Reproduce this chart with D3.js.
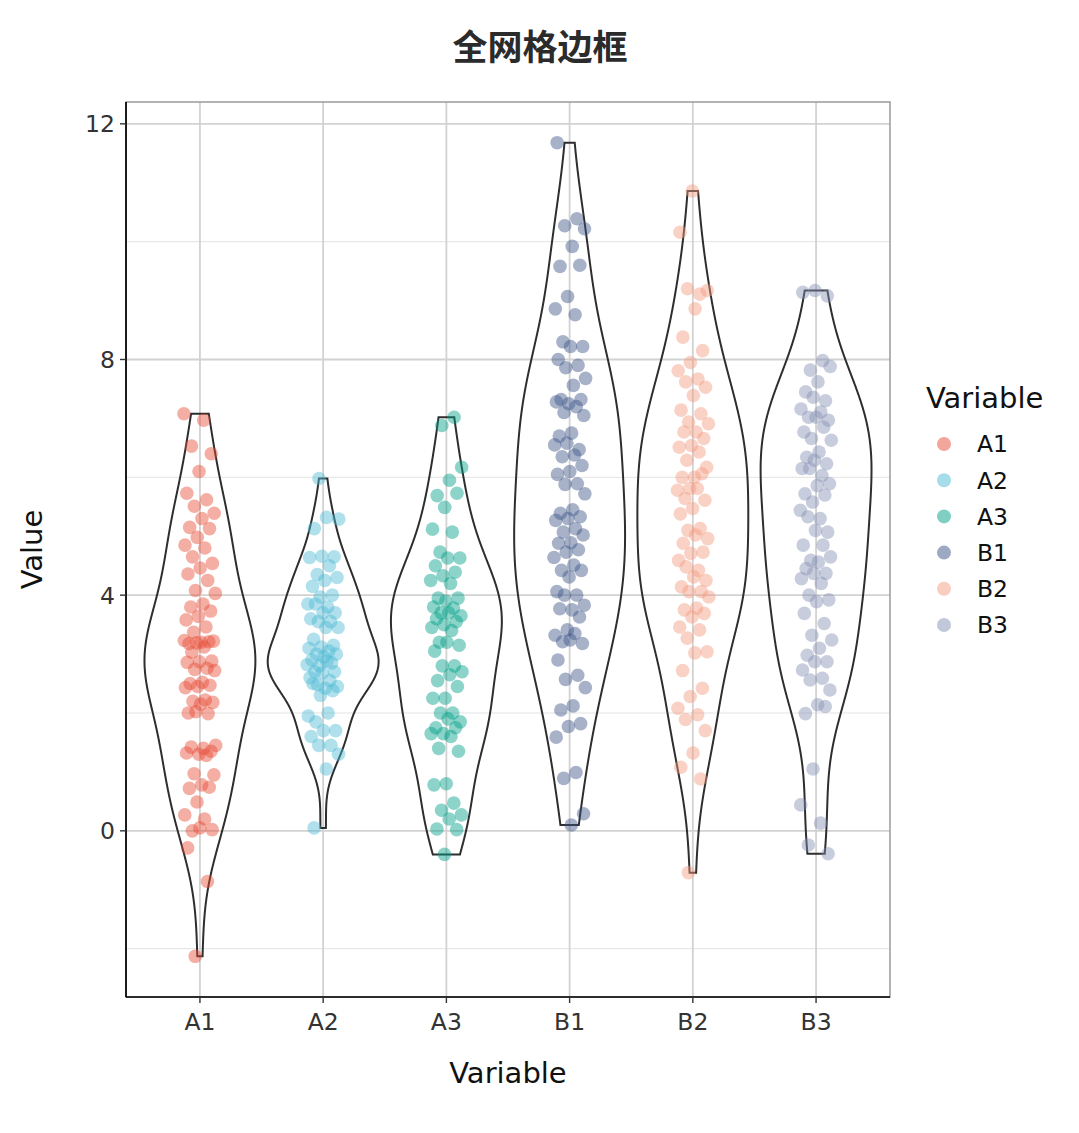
<!DOCTYPE html>
<html><head><meta charset="utf-8">
<script src="https://cdn.jsdelivr.net/npm/d3@7"></script>
<style>body{margin:0;background:#fff}svg{display:block}</style>
</head><body>
<svg id="chart" width="1079" height="1133"></svg>
<script>
const categories = ["A1","A2","A3","B1","B2","B3"];
const colors = ["#E64B35","#4DBBD5","#00A087","#3C5488","#F39B7F","#8491B4"];
const yTicksMajor = [0,4,8,12];
const yTicksMinor = [-2,2,6,10];

const a1Values = [7.08,6.97,6.53,6.40,6.10,5.73,5.62,5.51,5.39,5.30,5.15,5.13,4.98,4.85,4.80,4.65,4.54,4.46,4.36,4.25,4.08,4.03,3.85,3.80,3.73,3.64,3.58,3.46,3.37,3.22,3.20,3.18,3.21,3.19,3.23,3.12,3.03,2.88,2.87,2.86,2.76,2.74,2.72,2.52,2.50,2.47,2.45,2.43,2.22,2.20,2.18,2.15,2.00,1.99,2.02,1.45,1.40,1.42,1.35,1.30,1.32,1.28,0.97,0.95,0.78,0.72,0.74,0.49,0.27,0.20,0.00,0.02,0.05,-0.29,-0.86,-2.13];
const a2Values = [5.98,5.29,5.32,5.13,4.65,4.66,4.64,4.50,4.35,4.30,4.25,4.15,4.00,3.97,3.85,3.80,3.85,3.70,3.70,3.60,3.55,3.55,3.45,3.45,3.25,3.15,3.12,3.10,3.05,3.00,3.00,2.95,2.90,2.85,2.80,2.82,2.88,2.70,2.70,2.68,2.60,2.55,2.48,2.45,2.42,2.50,2.38,2.30,1.95,2.00,1.85,1.70,1.70,1.60,1.45,1.45,1.30,1.05,0.05];
const a3Values = [7.02,6.88,6.17,5.95,5.69,5.73,5.49,5.12,5.07,4.73,4.63,4.63,4.50,4.39,4.33,4.25,4.20,3.95,3.95,3.90,3.80,3.78,3.70,3.65,3.70,3.60,3.55,3.50,3.45,3.40,3.20,3.15,3.20,3.05,2.80,2.80,2.70,2.65,2.55,2.45,2.25,2.25,2.00,2.00,1.85,1.90,1.75,1.75,1.65,1.65,1.60,1.40,1.35,0.80,0.78,0.47,0.35,0.27,0.20,0.03,0.02,-0.40];
const b1Values = [11.68,10.39,10.27,10.22,9.92,9.58,9.60,9.07,8.86,8.76,8.30,8.22,8.22,8.00,7.90,7.86,7.68,7.56,7.32,7.32,7.25,7.28,7.20,7.10,7.05,6.75,6.70,6.47,6.58,6.55,6.38,6.35,6.20,6.10,6.05,5.89,5.88,5.72,5.45,5.39,5.33,5.30,5.27,5.13,5.07,5.02,4.89,4.88,4.77,4.73,4.64,4.51,4.42,4.42,4.31,4.06,4.00,4.00,3.83,3.75,3.77,3.63,3.41,3.32,3.35,3.21,3.18,3.24,2.90,2.64,2.57,2.43,2.12,2.05,1.82,1.77,1.59,0.99,0.89,0.29,0.10];
const b2Values = [10.86,10.16,9.11,9.20,9.17,8.86,8.38,8.15,7.95,7.81,7.67,7.62,7.53,7.39,7.14,7.08,6.94,6.91,6.77,6.77,6.66,6.54,6.51,6.43,6.29,6.17,6.00,6.00,6.06,5.81,5.78,5.81,5.64,5.61,5.47,5.38,5.13,5.10,4.96,5.02,4.88,4.73,4.71,4.59,4.42,4.48,4.25,4.31,4.14,4.06,4.06,3.97,3.78,3.75,3.69,3.63,3.46,3.41,3.27,3.04,3.02,2.72,2.42,2.28,2.08,1.97,1.89,1.70,1.32,1.08,0.88,-0.71];
const b3Values = [9.08,9.17,9.14,7.98,7.82,7.88,7.62,7.45,7.30,7.36,7.16,7.11,7.02,6.97,7.02,6.77,6.85,6.66,6.63,6.43,6.34,6.23,6.29,6.15,6.03,6.15,5.89,5.86,5.72,5.70,5.58,5.44,5.30,5.33,5.07,5.10,4.85,4.85,4.59,4.65,4.56,4.45,4.37,4.37,4.28,4.20,4.00,3.92,3.89,3.69,3.52,3.32,3.24,3.10,2.98,2.87,2.87,2.73,2.59,2.56,2.39,2.14,1.99,2.11,1.05,0.44,0.13,-0.24,-0.39];
const seriesValues = [a1Values,a2Values,a3Values,b1Values,b2Values,b3Values];

const svg = d3.select("#chart");
const panel = {left:126, right:890, top:102, bottom:997};
const FONT = "'DejaVu Sans', sans-serif";

const allVals = seriesValues.flat();
const [vmin, vmax] = d3.extent(allVals);
const pad = (vmax - vmin) * 0.05;
const y = d3.scaleLinear().domain([vmin - pad, vmax + pad]).range([panel.bottom, panel.top]);
const x = d3.scalePoint().domain(categories).range([panel.left, panel.right]).padding(0.6);
const step = x.step();

// grid
const g = svg.append("g");
g.selectAll(".minor").data(yTicksMinor).join("line")
 .attr("x1",panel.left).attr("x2",panel.right).attr("y1",d=>y(d)).attr("y2",d=>y(d))
 .attr("stroke","#e3e3e3").attr("stroke-width",1);
g.selectAll(".majorY").data(yTicksMajor).join("line")
 .attr("x1",panel.left).attr("x2",panel.right).attr("y1",d=>y(d)).attr("y2",d=>y(d))
 .attr("stroke","#d2d2d2").attr("stroke-width",1.8);
g.selectAll(".majorX").data(categories).join("line")
 .attr("y1",panel.top).attr("y2",panel.bottom).attr("x1",d=>x(d)).attr("x2",d=>x(d))
 .attr("stroke","#d2d2d2").attr("stroke-width",1.8);

// KDE violins
function nrd0(v){
  const s = d3.deviation(v);
  const sorted = v.slice().sort(d3.ascending);
  const iqr = d3.quantile(sorted,0.75) - d3.quantile(sorted,0.25);
  let lo = Math.min(s, iqr/1.34);
  if (!(lo > 0)) lo = s || 1;
  return 0.9 * lo * Math.pow(v.length, -0.2);
}
function kde(v){
  const bw = nrd0(v);
  const [mn, mx] = d3.extent(v);
  const n = 512, pts = [];
  for (let i=0;i<n;i++){
    const t = mn + (mx-mn)*i/(n-1);
    let s = 0;
    for (const d of v){ const u=(t-d)/bw; s += Math.exp(-0.5*u*u); }
    pts.push([t, s/(v.length*bw*Math.sqrt(2*Math.PI))]);
  }
  const m = d3.max(pts, p=>p[1]);
  return pts.map(p=>[p[0], p[1]/m]);
}
const halfW = 0.45 * step;
categories.forEach((c,i)=>{
  const dens = kde(seriesValues[i]);
  const cx = x(c);
  const right = dens.map(p=>[cx + p[1]*halfW, y(p[0])]);
  const left = dens.slice().reverse().map(p=>[cx - p[1]*halfW, y(p[0])]);
  svg.append("path").attr("d", d3.line()(right.concat(left)) + "Z")
    .attr("fill","none").attr("stroke","#2e2e2e").attr("stroke-width",2);
});

// jittered points (deterministic low-discrepancy offsets)
const jitterW = 0.13 * step;
categories.forEach((c,i)=>{
  const cx = x(c);
  svg.append("g").selectAll("circle").data(seriesValues[i]).join("circle")
    .attr("cx",(d,k)=>cx + (((k*0.6180339887 + i*0.37) % 1) - 0.5) * 2 * jitterW)
    .attr("cy",d=>y(d)).attr("r",6.8)
    .attr("fill",colors[i]).attr("fill-opacity",0.45);
});

// panel border (grey) and axes (black)
svg.append("rect").attr("x",panel.left).attr("y",panel.top).attr("width",panel.right-panel.left)
 .attr("height",panel.bottom-panel.top).attr("fill","none").attr("stroke","#9a9a9a").attr("stroke-width",1.5);
svg.append("line").attr("x1",panel.left).attr("x2",panel.left).attr("y1",panel.top).attr("y2",panel.bottom)
 .attr("stroke","#000").attr("stroke-width",1.7);
svg.append("line").attr("x1",panel.left).attr("x2",panel.right).attr("y1",panel.bottom).attr("y2",panel.bottom)
 .attr("stroke","#000").attr("stroke-width",1.7);

// ticks
const ax = svg.append("g");
yTicksMajor.forEach(t=>{
  ax.append("line").attr("x1",panel.left-6).attr("x2",panel.left).attr("y1",y(t)).attr("y2",y(t)).attr("stroke","#333").attr("stroke-width",1.4);
  ax.append("text").attr("x",panel.left-11).attr("y",y(t)).attr("dy","0.36em").attr("text-anchor","end")
    .attr("font-family",FONT).attr("font-size",23.5).attr("fill","#333").text(t);
});
categories.forEach(c=>{
  ax.append("line").attr("x1",x(c)).attr("x2",x(c)).attr("y1",panel.bottom).attr("y2",panel.bottom+6).attr("stroke","#333").attr("stroke-width",1.4);
  ax.append("text").attr("x",x(c)).attr("y",panel.bottom+33).attr("text-anchor","middle")
    .attr("font-family",FONT).attr("font-size",23.5).attr("fill","#333").text(c);
});

// titles
svg.append("text").attr("x",540).attr("y",60).attr("text-anchor","middle")
 .attr("font-family","'Noto Sans CJK SC', sans-serif").attr("font-weight","bold").attr("font-size",35)
 .attr("fill","#2b2b2b").text("全网格边框");
svg.append("text").attr("x",(panel.left+panel.right)/2).attr("y",1083).attr("text-anchor","middle")
 .attr("font-family",FONT).attr("font-size",29).attr("fill","#111").text("Variable");
svg.append("text").attr("transform",`translate(42,${(panel.top+panel.bottom)/2}) rotate(-90)`).attr("text-anchor","middle")
 .attr("font-family",FONT).attr("font-size",29).attr("fill","#111").text("Value");

// legend
const lg = svg.append("g");
lg.append("text").attr("x",926).attr("y",408).attr("font-family",FONT).attr("font-size",29).attr("fill","#111").text("Variable");
categories.forEach((c,i)=>{
  const cy = 444 + i*36.2;
  lg.append("circle").attr("cx",944).attr("cy",cy).attr("r",7).attr("fill",colors[i]).attr("fill-opacity",0.5);
  lg.append("text").attr("x",977).attr("y",cy).attr("dy","0.36em").attr("font-family",FONT).attr("font-size",23.5).attr("fill","#111").text(c);
});
</script>
</body></html>
